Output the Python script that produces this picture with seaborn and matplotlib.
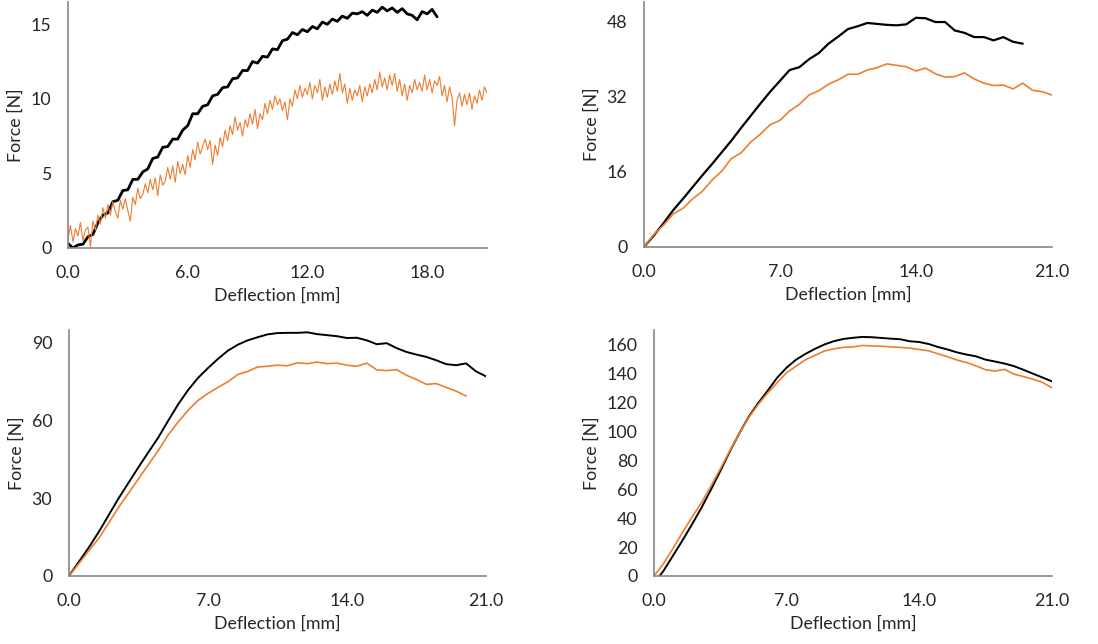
import numpy as np
import pandas as pd
import seaborn as sns
from matplotlib import pyplot as plt
from matplotlib.ticker import MultipleLocator

# ---- data (deflection in mm, force in N) ----

# top-left panel: orange trace sampled every 0.125 mm
defl_a_orange = [
    0.0, 0.125, 0.25, 0.375, 0.5, 0.625, 0.75, 0.875,
    1.0, 1.125, 1.25, 1.375, 1.5, 1.625, 1.75, 1.875,
    2.0, 2.125, 2.25, 2.375, 2.5, 2.625, 2.75, 2.875,
    3.0, 3.125, 3.25, 3.375, 3.5, 3.625, 3.75, 3.875,
    4.0, 4.125, 4.25, 4.375, 4.5, 4.625, 4.75, 4.875,
    5.0, 5.125, 5.25, 5.375, 5.5, 5.625, 5.75, 5.875,
    6.0, 6.125, 6.25, 6.375, 6.5, 6.625, 6.75, 6.875,
    7.0, 7.125, 7.25, 7.375, 7.5, 7.625, 7.75, 7.875,
    8.0, 8.125, 8.25, 8.375, 8.5, 8.625, 8.75, 8.875,
    9.0, 9.125, 9.25, 9.375, 9.5, 9.625, 9.75, 9.875,
    10.0, 10.125, 10.25, 10.375, 10.5, 10.625, 10.75, 10.875,
    11.0, 11.125, 11.25, 11.375, 11.5, 11.625, 11.75, 11.875,
    12.0, 12.125, 12.25, 12.375, 12.5, 12.625, 12.75, 12.875,
    13.0, 13.125, 13.25, 13.375, 13.5, 13.625, 13.75, 13.875,
    14.0, 14.125, 14.25, 14.375, 14.5, 14.625, 14.75, 14.875,
    15.0, 15.125, 15.25, 15.375, 15.5, 15.625, 15.75, 15.875,
    16.0, 16.125, 16.25, 16.375, 16.5, 16.625, 16.75, 16.875,
    17.0, 17.125, 17.25, 17.375, 17.5, 17.625, 17.75, 17.875,
    18.0, 18.125, 18.25, 18.375, 18.5, 18.625, 18.75, 18.875,
    19.0, 19.125, 19.25, 19.375, 19.5, 19.625, 19.75, 19.875,
    20.0, 20.125, 20.25, 20.375, 20.5, 20.625, 20.75, 20.875,
    21.0,
]
force_a_orange = [
    0.6, 1.5, 0.4, 1.3, 0.8, 1.7, 0.5, 1.2,
    1.4, 0.1, 1.8, 1.2, 2.2, 1.6, 2.7, 2.0,
    2.9, 2.2, 3.1, 2.4, 2.0, 3.2, 2.6, 3.3,
    2.5, 1.8, 3.4, 2.9, 4.0, 3.3, 3.6, 4.3,
    3.7, 4.6, 3.9, 4.7, 3.5, 4.9, 4.2, 4.5,
    5.4, 4.6, 5.5, 4.4, 5.8, 5.0, 5.6, 4.9,
    6.2, 5.4, 6.6, 5.9, 7.1, 6.3, 6.8, 7.3,
    6.6, 7.2, 5.6, 6.9, 6.2, 7.4, 6.8, 7.9,
    7.2, 8.2, 7.6, 8.8, 7.9, 8.4, 7.5, 8.6,
    8.1, 9.0, 8.3, 9.3, 8.0, 9.0, 8.6, 9.7,
    9.0, 9.9, 9.3, 10.2, 9.6, 10.0, 9.2, 9.8,
    8.6, 10.0, 9.5, 10.6, 10.0, 10.9, 10.1, 10.7,
    10.3, 11.1, 10.0, 10.9, 10.4, 11.3, 9.9, 10.8,
    10.1, 11.0, 10.3, 11.2, 10.5, 11.7, 10.4, 11.0,
    9.7, 10.7, 9.9, 10.6, 10.2, 10.9, 9.8, 10.8,
    10.2, 11.0, 10.4, 11.3, 10.6, 11.8, 10.8, 11.4,
    10.6, 11.6, 10.9, 11.7, 10.5, 11.3, 10.2, 11.0,
    9.9, 10.9, 10.4, 11.3, 10.6, 11.1, 10.5, 11.6,
    10.6, 11.3, 10.4, 11.2, 10.9, 11.5, 10.2, 10.9,
    9.8, 10.8, 10.1, 8.2, 9.9, 10.4, 9.5, 10.3,
    9.6, 10.4, 9.3, 10.2, 9.7, 10.6, 9.9, 10.8,
    10.4,
]
# top-left panel: black trace sampled every 0.25 mm
defl_a_black = defl_a_orange[0:149:2]
force_a_black = [
    0.3, 0.0, 0.2, 0.25, 0.75, 0.9, 1.7, 2.2, 2.35, 3.1,
    3.2, 3.85, 3.9, 4.6, 4.6, 5.1, 5.3, 6.0, 6.1, 6.75,
    6.8, 7.3, 7.3, 7.9, 8.2, 9.0, 9.0, 9.5, 9.6, 10.2,
    10.3, 10.75, 10.8, 11.35, 11.4, 11.9, 11.9, 12.5, 12.4, 12.85,
    12.8, 13.35, 13.3, 13.9, 14.0, 14.45, 14.3, 14.65, 14.5, 14.85,
    14.7, 15.15, 15.0, 15.35, 15.2, 15.55, 15.4, 15.75, 15.7, 15.85,
    15.6, 15.95, 15.8, 16.15, 15.9, 16.1, 15.8, 16.05, 15.7, 15.6,
    15.3, 15.85, 15.7, 16.0, 15.5,
]

# top-right panel
defl_b_orange = [
    0.0, 0.5, 1.0, 1.5, 2.0, 2.5, 3.0, 3.5, 4.0, 4.5, 5.0, 5.5, 6.0, 6.5, 7.0, 7.5, 8.0, 8.5,
    9.0, 9.5, 10.0, 10.5, 11.0, 11.5, 12.0, 12.5, 13.0, 13.5, 14.0, 14.5, 15.0, 15.5, 16.0, 16.5,
    17.0, 17.5, 18.0, 18.5, 19.0, 19.5, 20.0, 20.5, 21.0,
]
force_b_orange = [
    0.0, 2.6, 4.6, 7.0, 8.2, 10.2, 11.8, 14.2, 16.1, 18.8, 20.0, 22.3, 24.0, 26.0, 26.9, 28.9, 30.3, 32.3,
    33.2, 34.6, 35.5, 36.7, 36.7, 37.6, 38.1, 38.9, 38.6, 38.3, 37.4, 38.0, 36.8, 36.1, 36.2, 37.0,
    35.7, 34.8, 34.3, 34.4, 33.6, 34.8, 33.3, 33.0, 32.3,
]
defl_b_black = defl_b_orange[:40]
force_b_black = [
    0.0, 2.4, 5.0, 7.8, 10.2, 12.7, 15.2, 17.6, 20.1, 22.6, 25.3, 27.9, 30.5, 33.0, 35.3, 37.6, 38.2, 39.9,
    41.2, 43.2, 44.7, 46.3, 46.9, 47.6, 47.4, 47.2, 47.1, 47.3, 48.7, 48.6, 47.8, 47.8, 46.0, 45.5,
    44.6, 44.6, 43.9, 44.6, 43.6, 43.2,
]

# bottom-left panel
defl_c_black = defl_b_orange
force_c_black = [
    0.0, 5.5, 11.0, 17.0, 23.5, 30.0, 36.0, 42.0, 47.8, 53.5, 60.0, 66.3, 71.8, 76.5, 80.3, 83.8, 87.0, 89.3,
    91.0, 92.2, 93.3, 93.8, 93.9, 93.9, 94.1, 93.4, 93.0, 92.6, 91.9, 92.0, 91.0, 89.5, 89.9, 88.0,
    86.5, 85.5, 84.6, 83.3, 81.8, 81.4, 82.1, 79.0, 77.1,
]
defl_c_orange = defl_b_orange[:41]
force_c_orange = [
    0.0, 4.8, 9.8, 14.5, 20.5, 26.5, 32.0, 37.5, 43.0, 48.5, 54.5, 59.5, 64.0, 67.8, 70.5, 72.8, 75.0, 77.8,
    79.0, 80.7, 81.0, 81.4, 81.2, 82.3, 82.0, 82.6, 82.0, 82.2, 81.4, 81.0, 82.2, 79.6, 79.3, 79.7,
    77.5, 75.9, 74.0, 74.3, 72.8, 71.4, 69.5,
]

# bottom-right panel
defl_d_black = [
    0.3, 0.5, 1.0, 1.5, 2.0, 2.5, 3.0, 3.5, 4.0, 4.5, 5.0, 5.5, 6.0, 6.5, 7.0, 7.5, 8.0, 8.5,
    9.0, 9.5, 10.0, 10.5, 11.0, 11.5, 12.0, 12.5, 13.0, 13.5, 14.0, 14.5, 15.0, 15.5, 16.0, 16.5,
    17.0, 17.5, 18.0, 18.5, 19.0, 19.5, 20.0, 20.5, 21.0,
]
force_d_black = [
    0.0, 3.5, 14.0, 24.5, 35.5, 47.0, 59.5, 72.5, 86.0, 98.5, 110.0, 119.5, 128.0, 137.0, 144.0, 149.5, 153.5, 157.0,
    160.0, 162.3, 163.8, 164.6, 165.2, 165.0, 164.5, 164.0, 163.6, 162.2, 161.7, 160.3, 158.2, 156.5, 154.5, 153.0,
    151.8, 149.5, 148.2, 146.8, 145.0, 142.5, 139.8, 137.2, 134.5,
]
defl_d_orange = defl_b_orange
force_d_orange = [
    0.0, 8.5, 19.0, 30.0, 40.5, 50.5, 62.0, 74.0, 86.5, 98.5, 109.5, 118.5, 126.5, 133.5, 140.5, 145.0, 149.5, 152.5,
    155.5, 157.0, 158.0, 158.3, 159.3, 159.0, 158.8, 158.3, 158.0, 157.5, 156.5, 155.6, 153.5, 151.5, 149.2, 147.5,
    145.2, 142.5, 141.6, 142.8, 139.5, 137.8, 136.0, 133.8, 130.0,
]

BLACK = "#000000"
ORANGE = "#ED7D31"
AXIS_GREY = "#868686"

sns.set_style("white")
plt.rcParams["font.family"] = ["Lato", "DejaVu Sans"]
plt.rcParams["font.size"] = 12.8

fig = plt.figure(figsize=(10.98, 6.44), dpi=100)

panels = [
    # rect, curves, y max, x ticks, y major, y minor
    ([0.0619, 0.615, 0.3816, 0.382],
     [(defl_a_black, force_a_black, BLACK, 2.0), (defl_a_orange, force_a_orange, ORANGE, 0.8)],
     16.5, [0, 6, 12, 18], 5, None),
    ([0.5865, 0.6165, 0.3715, 0.380],
     [(defl_b_black, force_b_black, BLACK, 1.6), (defl_b_orange, force_b_orange, ORANGE, 1.2)],
     52, [0, 7, 14, 21], 16, None),
    ([0.0628, 0.1056, 0.3798, 0.382],
     [(defl_c_black, force_c_black, BLACK, 1.4), (defl_c_orange, force_c_orange, ORANGE, 1.2)],
     95, [0, 7, 14, 21], 30, 6),
    ([0.5956, 0.1056, 0.3624, 0.382],
     [(defl_d_black, force_d_black, BLACK, 1.4), (defl_d_orange, force_d_orange, ORANGE, 1.2)],
     170, [0, 7, 14, 21], 20, None),
]

for rect, curves, ymax, xticks, ymajor, yminor in panels:
    ax = fig.add_axes(rect)
    for xs, ys, color, lw in curves:
        curve = pd.DataFrame({"Deflection": xs, "Force": ys})
        sns.lineplot(data=curve, x="Deflection", y="Force", color=color,
                     linewidth=lw, sort=False, estimator=None, ax=ax)

    ax.set_xlim(0, 21)
    ax.set_ylim(0, ymax)
    ax.set_xticks(xticks)
    ax.set_xticklabels([f"{t:.1f}" for t in xticks])
    ax.yaxis.set_major_locator(MultipleLocator(ymajor))
    if yminor:
        ax.yaxis.set_minor_locator(MultipleLocator(yminor))
        ax.tick_params(axis="y", which="minor", direction="in", length=4,
                       width=1, color=AXIS_GREY)

    ax.set_xlabel("Deflection [mm]", labelpad=5)
    ax.set_ylabel("Force [N]", labelpad=5)

    sns.despine(ax=ax)
    for side in ["left", "bottom"]:
        ax.spines[side].set_color(AXIS_GREY)
        ax.spines[side].set_linewidth(1.2)
    ax.tick_params(axis="both", which="major", direction="in", length=4,
                   width=1, color=AXIS_GREY, labelcolor="#262626", pad=12)
    ax.grid(False)

fig.savefig("out.png", dpi=100)
